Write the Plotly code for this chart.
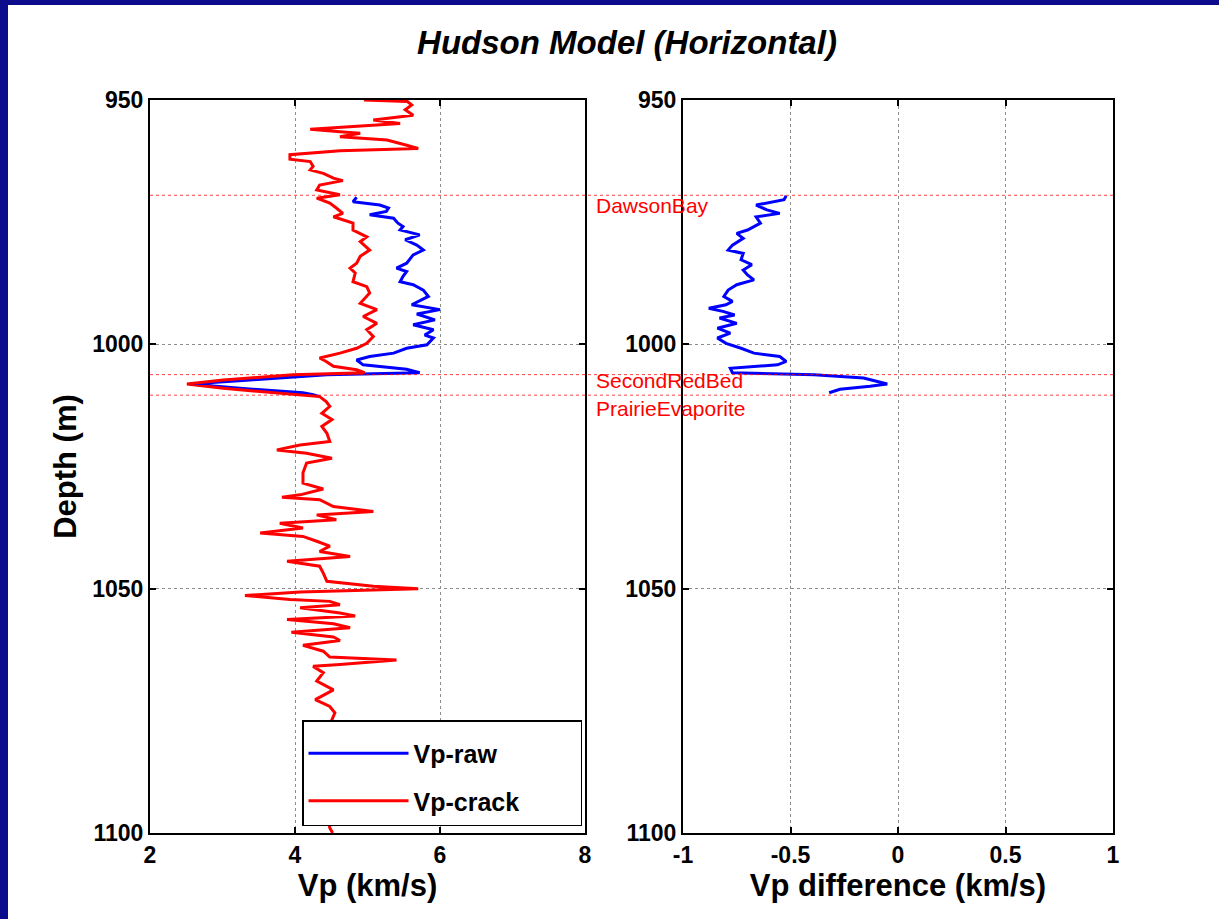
import plotly.graph_objects as go

# ---------------- data ----------------
# Vp-crack (red), full log
crack_depth = [950.0, 950.3, 951.0, 952.0, 953.1, 954.1, 954.8, 956.0, 956.5, 956.8, 957.5,
               958.2, 958.9, 959.9, 960.4, 961.2, 962.1, 962.6, 963.6, 964.3, 965.0,
               966.0, 966.5, 967.4, 968.4, 969.4, 970.1, 971.1, 972.1, 973.2, 973.9,
               975.2, 976.6, 978.0, 979.0, 980.7, 982.0, 983.4, 984.4, 985.4, 987.2,
               988.2, 989.5, 991.6, 992.9, 994.3, 995.7, 997.0, 998.4, 999.8, 1000.8,
               1001.8, 1002.8, 1003.5, 1004.5, 1005.2, 1005.8, 1006.2, 1007.3, 1008.1, 1009.0,
               1009.7, 1010.1, 1010.7, 1011.7, 1012.7, 1014.1, 1015.4, 1016.8, 1018.2, 1019.9,
               1020.6, 1021.6, 1022.3, 1023.3, 1024.3, 1026.3, 1028.4, 1029.6, 1030.8, 1031.3,
               1031.8, 1033.2, 1034.2, 1034.9, 1035.9, 1036.6, 1037.6, 1038.6, 1039.3, 1040.3,
               1041.3, 1042.4, 1043.4, 1044.4, 1045.4, 1046.8, 1048.5, 1049.5, 1050.0, 1050.7,
               1051.4, 1052.2, 1052.6, 1053.3, 1053.9, 1055.0, 1055.6, 1056.3, 1057.2, 1058.0,
               1058.9, 1059.9, 1060.6, 1061.6, 1062.8, 1064.0, 1064.6, 1065.5, 1065.9, 1067.2,
               1068.9, 1070.7, 1072.7, 1074.1, 1075.4, 1076.8, 1079.0, 1082.0, 1085.0, 1088.0,
               1091.0, 1094.0, 1097.0, 1099.0, 1100.0]
vp_crack = [4.95, 5.55, 5.61, 5.52, 5.63, 5.08, 5.45, 4.21, 4.62, 4.90, 4.62,
            5.27, 5.45, 5.70, 4.62, 3.93, 3.93, 4.21, 4.25, 4.21, 4.39,
            4.53, 4.66, 4.34, 4.30, 4.62, 4.30, 4.48, 4.57, 4.66, 4.53,
            4.80, 4.80, 4.99, 4.90, 5.03, 4.90, 4.85, 4.76, 4.83, 4.80,
            4.99, 5.03, 4.90, 5.13, 4.94, 5.13, 4.99, 5.08, 4.99, 4.85,
            4.62, 4.34, 4.43, 4.53, 4.85, 4.96, 3.97, 3.01, 2.51, 3.01,
            3.61, 3.90, 4.34, 4.43, 4.48, 4.37, 4.51, 4.37, 4.44, 4.48,
            4.07, 3.75, 4.16, 4.51, 4.16, 4.11, 4.11, 4.39, 4.07, 3.82,
            4.34, 4.53, 5.08, 4.30, 4.57, 3.79, 4.11, 3.52, 4.11, 4.30,
            4.48, 4.34, 4.76, 3.89, 4.34, 4.39, 4.44, 5.08, 5.70, 4.07,
            3.31, 3.93, 4.48, 4.62, 4.07, 4.62, 4.83, 3.89, 4.53, 4.76,
            3.95, 4.53, 4.62, 4.11, 4.39, 4.48, 5.40, 4.62, 4.25, 4.39,
            4.30, 4.53, 4.28, 4.48, 4.55, 4.51, 4.45, 4.52, 4.42, 4.50,
            4.44, 4.53, 4.46, 4.48, 4.52]

# Vp-raw (blue), where it departs from Vp-crack
raw_depth = [969.9, 970.8, 971.5, 972.1, 972.8, 973.5, 974.2, 975.2, 975.9, 976.6,
             977.6, 978.6, 979.7, 980.7, 981.7, 982.4, 983.4, 984.4, 985.1, 986.1,
             987.2, 987.8, 988.9, 990.2, 991.9, 992.9, 993.8, 995.0, 996.0, 997.0,
             998.1, 998.7, 1000.1, 1000.8, 1001.8, 1002.5, 1003.2, 1004.2, 1005.1, 1005.8,
             1006.2, 1007.3, 1008.1, 1009.0, 1009.7, 1009.9, 1010.3, 1010.7]
vp_raw = [4.85, 4.80, 5.17, 5.29, 5.26, 5.03, 5.36, 5.42, 5.49, 5.45,
          5.72, 5.52, 5.68, 5.77, 5.63, 5.59, 5.54, 5.40, 5.54, 5.49,
          5.45, 5.63, 5.77, 5.84, 5.61, 6.00, 5.68, 5.93, 5.63, 5.91,
          5.79, 5.91, 5.82, 5.54, 5.36, 5.03, 4.85, 4.94, 5.54, 5.72,
          4.44, 3.38, 2.55, 3.24, 3.84, 4.11, 4.25, 4.34]

# Vp difference (right panel)
diff_depth = [969.6, 970.4, 971.5, 972.5, 973.2, 973.9, 975.2, 976.6, 977.3, 978.3,
              979.7, 980.7, 981.4, 982.7, 983.7, 984.8, 985.8, 986.8, 987.8, 988.9,
              990.2, 991.2, 991.9, 992.6, 993.3, 994.0, 994.6, 995.7, 996.7, 997.7,
              998.7, 999.8, 1000.8, 1001.8, 1002.5, 1003.5, 1004.2, 1004.9, 1005.8, 1006.2,
              1006.9, 1008.1, 1008.6, 1009.2, 1009.9]
vp_diff = [-0.52, -0.53, -0.66, -0.61, -0.55, -0.66, -0.64, -0.70, -0.75, -0.72,
           -0.77, -0.79, -0.72, -0.73, -0.68, -0.72, -0.70, -0.67, -0.75, -0.79,
           -0.81, -0.77, -0.80, -0.88, -0.81, -0.76, -0.83, -0.75, -0.84, -0.78,
           -0.84, -0.80, -0.73, -0.67, -0.55, -0.52, -0.56, -0.78, -0.77, -0.39,
           -0.16, -0.05, -0.13, -0.27, -0.32]

# Formation tops
formation_names = ["DawsonBay", "SecondRedBed", "PrairieEvaporite"]
formation_depths = [969.5, 1006.2, 1010.4]

vp_ticks = [2, 4, 6, 8]
diff_ticks = [-1, -0.5, 0, 0.5, 1]
depth_ticks = [950, 1000, 1050, 1100]

# ---------------- figure ----------------
W, H = 1219, 919
ML, MR, MT, MB = 150, 106, 100, 86
PW = W - ML - MR
PH = H - MT - MB
FONT = "Arial, Liberation Sans, Helvetica, sans-serif"
NAVY = "#0c0c8c"
PAD = "\u00a0" * 8

fig = go.Figure()

fig.add_trace(go.Scatter(x=vp_raw, y=raw_depth, mode="lines", name="Vp-raw" + PAD,
                         line=dict(color="#0000ff", width=3), legendgroup="a",
                         xaxis="x", yaxis="y"))
fig.add_trace(go.Scatter(x=vp_crack, y=crack_depth, mode="lines", name="Vp-crack" + PAD,
                         line=dict(color="#ff0000", width=3), legendgroup="b",
                         xaxis="x", yaxis="y"))
fig.add_trace(go.Scatter(x=vp_diff, y=diff_depth, mode="lines", showlegend=False,
                         line=dict(color="#0000ff", width=3),
                         xaxis="x2", yaxis="y2"))

ax_common = dict(showline=True, linecolor="black", linewidth=2, mirror="allticks",
                 ticks="inside", ticklen=6, tickcolor="black", tickwidth=1.5,
                 showgrid=True, gridcolor="#8c8c8c", griddash="dot", gridwidth=1,
                 zeroline=False,
                 tickfont=dict(family=FONT, size=23, color="black", weight="bold"))

x1_dom = [0, (585 - ML) / PW]
x2_dom = [(683 - ML) / PW, 1]
TITLE_FONT = dict(family=FONT, size=31, weight="bold")

fig.update_layout(
    width=W, height=H,
    margin=dict(l=ML, r=MR, t=MT, b=MB, autoexpand=False),
    paper_bgcolor="white", plot_bgcolor="white",
    font=dict(family=FONT, color="black"),
    title=dict(text="Hudson Model (Horizontal)", x=627 / W, xanchor="center",
               y=1 - 42 / H, yanchor="middle", xref="container", yref="container",
               font=dict(family=FONT, size=33, color="black", weight="bold", style="italic")),
    xaxis=dict(domain=x1_dom, range=[2, 8], tickvals=vp_ticks, anchor="y",
               title=dict(text="Vp (km/s)", standoff=4, font=TITLE_FONT),
               **ax_common),
    yaxis=dict(domain=[0, 1], range=[1100, 950], tickvals=depth_ticks, anchor="x",
               title=dict(text="Depth (m)", standoff=6, font=TITLE_FONT),
               **ax_common),
    xaxis2=dict(domain=x2_dom, range=[-1, 1], tickvals=diff_ticks, anchor="y2",
                ticktext=["-1", "-0.5", "0", "0.5", "1"],
                title=dict(text="Vp difference (km/s)", standoff=4, font=TITLE_FONT),
                **ax_common),
    yaxis2=dict(domain=[0, 1], range=[1100, 950], tickvals=depth_ticks, anchor="x2",
                **ax_common),
    legend=dict(x=(302 - ML) / PW, y=1 - (720 - MT) / PH, xanchor="left", yanchor="top",
                bgcolor="white", bordercolor="black", borderwidth=1.5,
                font=dict(family=FONT, size=25, color="black", weight="bold"),
                traceorder="grouped", tracegroupgap=12, itemwidth=100,
                title=dict(text=" ", font=dict(size=7))),
)

# formation lines
for d in formation_depths:
    fig.add_shape(type="line", xref="paper", yref="y", x0=0, x1=1, y0=d, y1=d,
                  line=dict(color="rgba(255,0,0,0.75)", width=1, dash="dot"), layer="above")

# formation labels (each sits just below its line; SecondRedBed fits between its line and the next)
label_y = [formation_depths[0], formation_depths[2], formation_depths[2]]
label_anchor = ["top", "bottom", "top"]
label_shift = [3, 1, 0]
for name, yv, anc, sh in zip(formation_names, label_y, label_anchor, label_shift):
    fig.add_annotation(text=name, xref="paper", yref="y", x=(594 - ML) / PW, y=yv,
                       xanchor="left", yanchor=anc, showarrow=False,
                       font=dict(family=FONT, size=21, color="#ff0000"), yshift=sh)

# navy frame at top and left edge
fig.add_shape(type="rect", xref="paper", yref="paper",
              x0=-ML / PW, x1=(W - ML) / PW, y0=1 + (MT - 5) / PH, y1=1 + MT / PH,
              fillcolor=NAVY, line_width=0, layer="above")
fig.add_shape(type="rect", xref="paper", yref="paper",
              x0=-ML / PW, x1=(8 - ML) / PW, y0=-MB / PH, y1=1 + MT / PH,
              fillcolor=NAVY, line_width=0, layer="above")

fig.write_html("out.html")
